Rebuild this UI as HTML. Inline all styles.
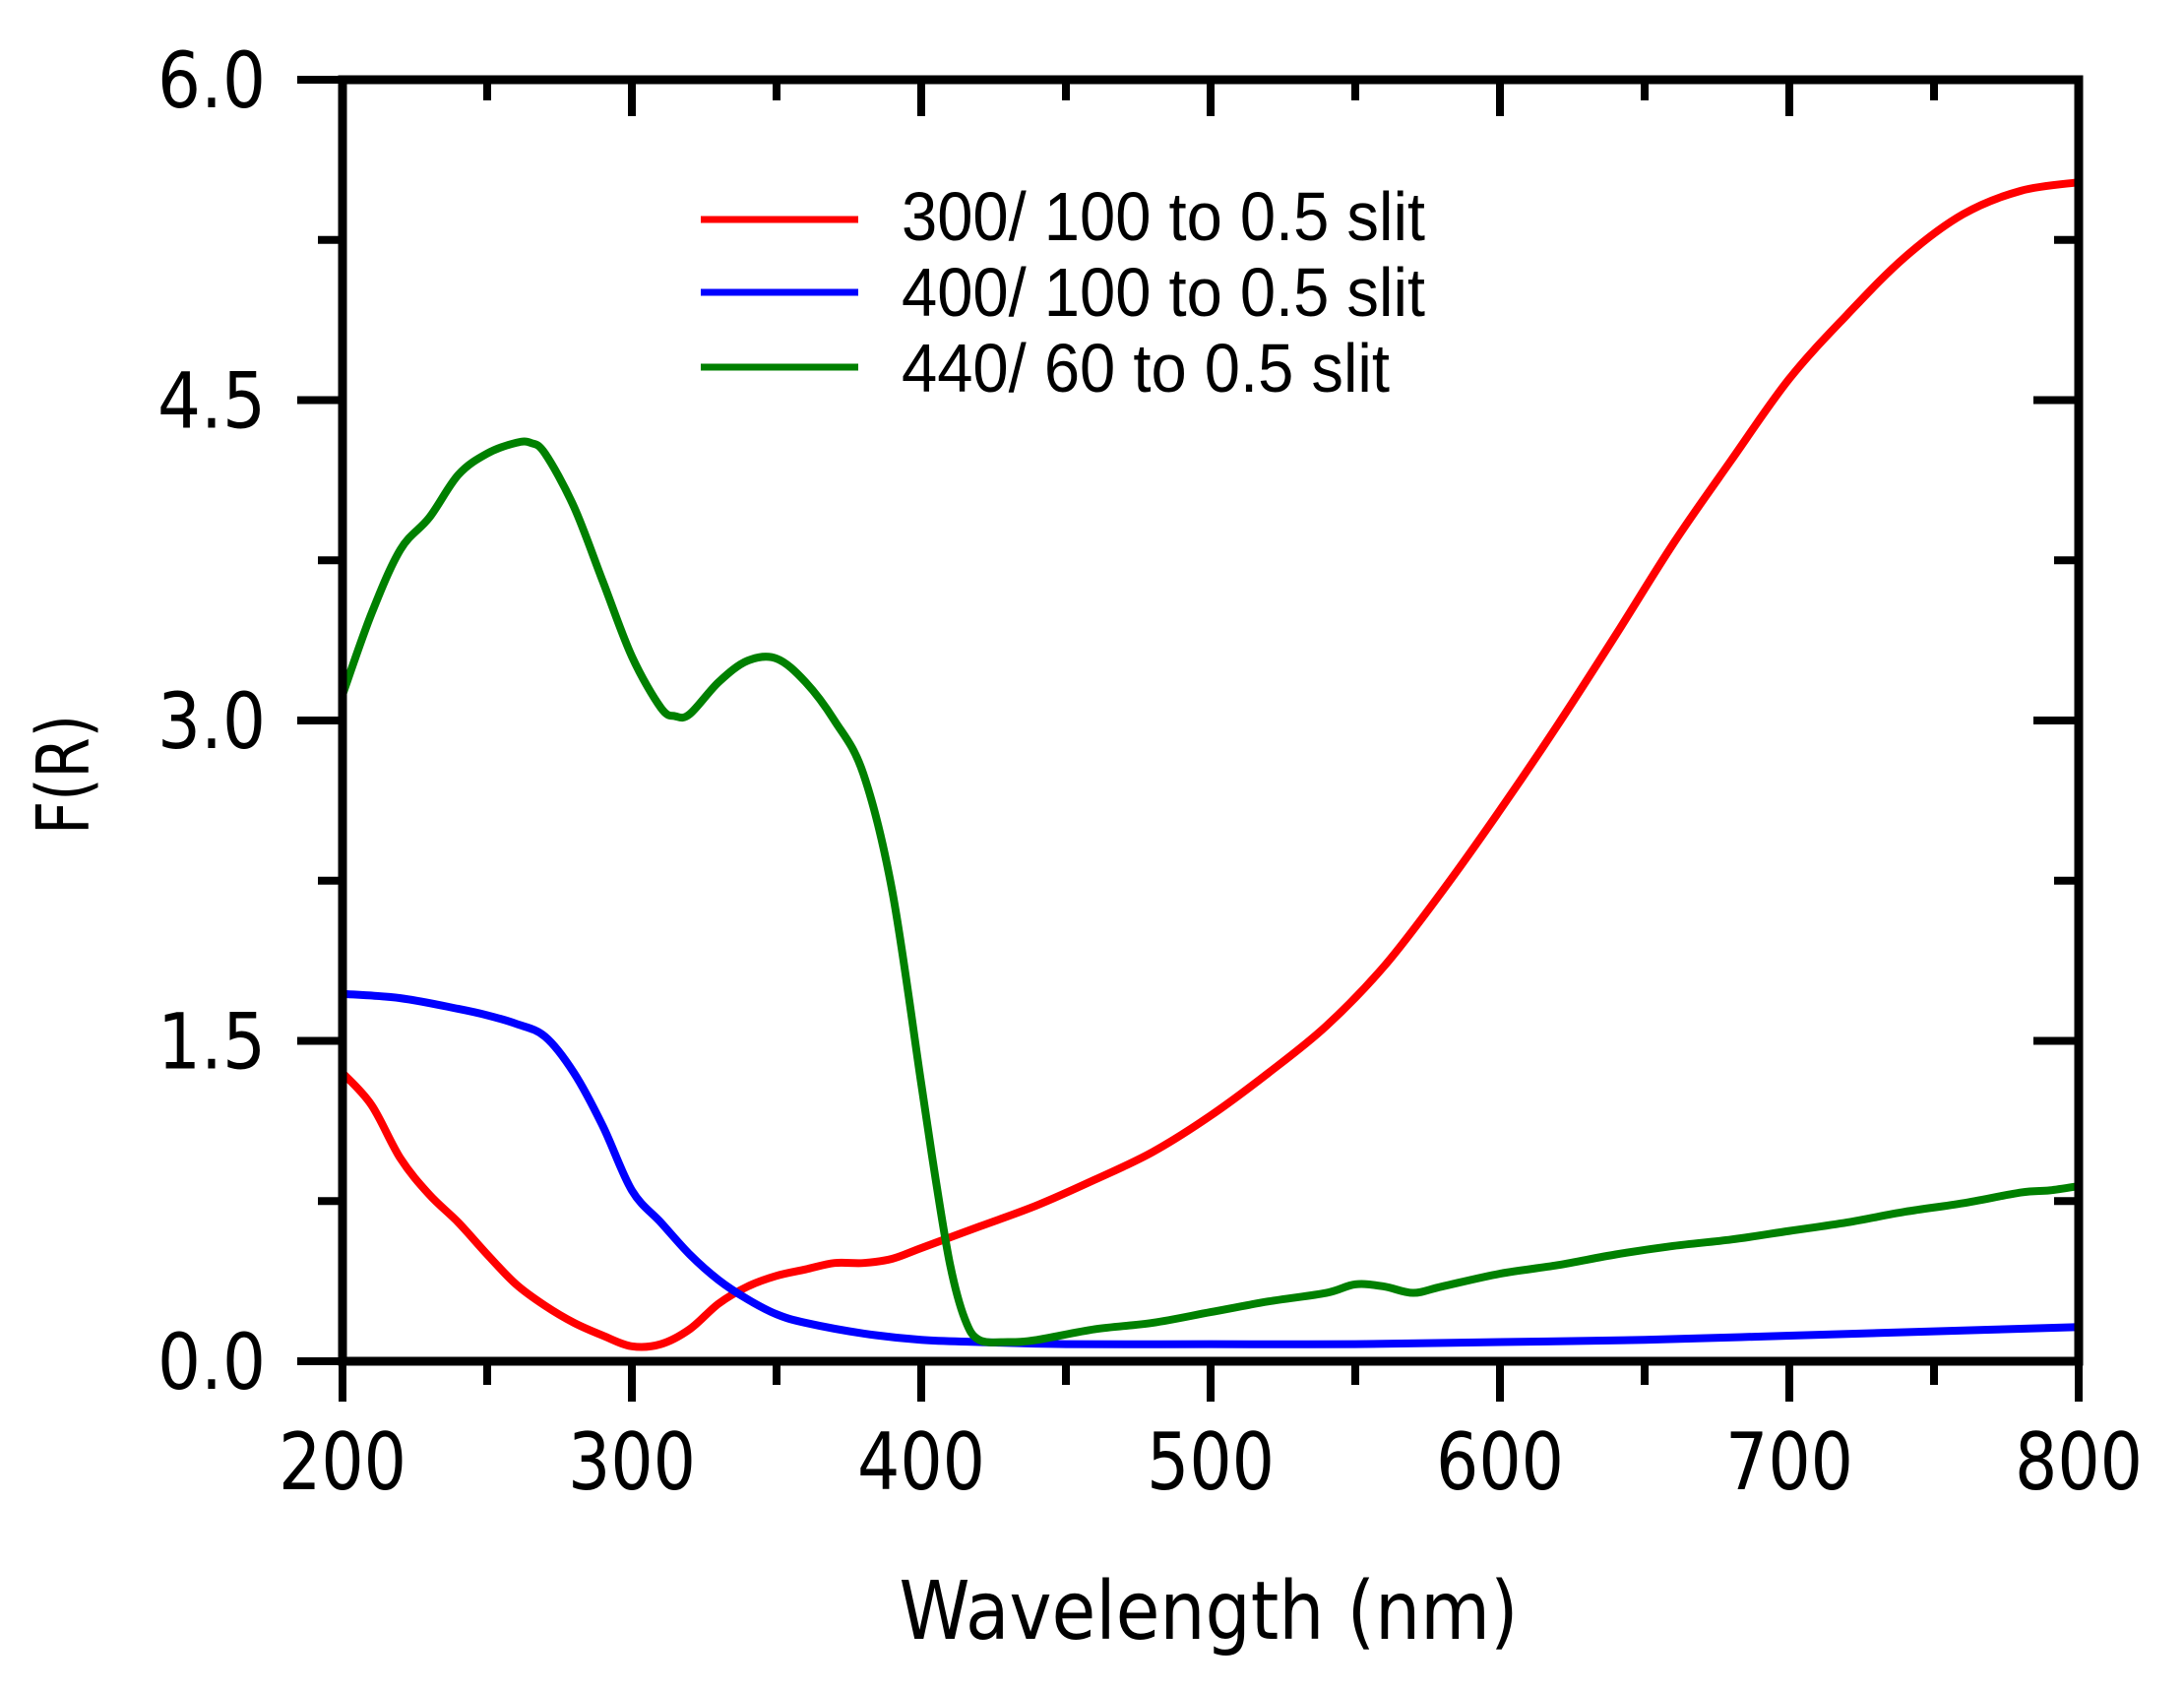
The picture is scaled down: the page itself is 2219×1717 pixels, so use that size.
<!DOCTYPE html>
<html><head><meta charset="utf-8"><style>html,body{margin:0;padding:0;background:#fff}svg{display:block}</style></head>
<body>
<svg id="chart" xmlns="http://www.w3.org/2000/svg" width="2219" height="1717" viewBox="0 0 2219 1717">
<rect width="2219" height="1717" fill="#fff"/>
<g id="series"></g>
<g id="axes"></g>
<g id="legend">
  <line x1="712" y1="223" x2="872" y2="223" stroke="#ff0000" stroke-width="7"/>
  <text x="916" y="244" font-family="Liberation Sans, sans-serif" font-size="70" textLength="532" lengthAdjust="spacingAndGlyphs">300/ 100 to 0.5 slit</text>
  <line x1="712" y1="297" x2="872" y2="297" stroke="#0000ff" stroke-width="7"/>
  <text x="916" y="321" font-family="Liberation Sans, sans-serif" font-size="70" textLength="532" lengthAdjust="spacingAndGlyphs">400/ 100 to 0.5 slit</text>
  <line x1="712" y1="373" x2="872" y2="373" stroke="#008000" stroke-width="7"/>
  <text x="916" y="398" font-family="Liberation Sans, sans-serif" font-size="70" textLength="496" lengthAdjust="spacingAndGlyphs">440/ 60 to 0.5 slit</text>
</g>
<text x="1228" y="1665" text-anchor="middle" font-family="DejaVu Sans, sans-serif" font-size="82" textLength="629" lengthAdjust="spacingAndGlyphs">Wavelength (nm)</text>
<text transform="translate(90,787) rotate(-90)" text-anchor="middle" font-family="DejaVu Sans, sans-serif" font-size="74" textLength="122" lengthAdjust="spacingAndGlyphs">F(R)</text>
</svg>
<script>
const redX = [200,210,220,230,240,250,260,270,280,290,300,310,320,330,340,350,360,370,380,390,400,420,440,460,480,500,520,540,560,580,600,620,640,660,680,700,720,740,760,780,800];
const redY = [1.35,1.2,0.95,0.78,0.65,0.5,0.36,0.26,0.18,0.12,0.07,0.08,0.15,0.27,0.35,0.4,0.43,0.46,0.46,0.48,0.53,0.63,0.73,0.85,0.98,1.15,1.35,1.57,1.85,2.2,2.58,2.98,3.4,3.83,4.22,4.6,4.9,5.17,5.37,5.48,5.52];
const blueX = [200,220,240,250,260,270,280,290,300,310,320,330,340,350,360,380,400,420,450,500,550,600,650,700,750,800];
const blueY = [1.72,1.7,1.65,1.62,1.58,1.52,1.35,1.1,0.8,0.65,0.5,0.38,0.29,0.22,0.18,0.13,0.1,0.09,0.08,0.08,0.08,0.09,0.1,0.12,0.14,0.16];
const greenX = [200,210,220,230,240,250,260,265,270,280,290,300,310,315,320,330,340,350,360,370,380,390,400,405,410,415,420,430,440,460,480,500,520,540,550,560,570,580,600,620,640,660,680,700,720,740,760,780,790,800];
const greenY = [3.12,3.5,3.8,3.95,4.15,4.25,4.3,4.3,4.25,4.0,3.65,3.3,3.06,3.02,3.03,3.18,3.28,3.29,3.18,3.0,2.75,2.2,1.3,0.85,0.45,0.2,0.1,0.09,0.1,0.15,0.18,0.23,0.28,0.32,0.36,0.35,0.32,0.35,0.41,0.45,0.5,0.54,0.57,0.61,0.65,0.7,0.74,0.79,0.8,0.82];
const xTicks = [200,300,400,500,600,700,800];
const xTickLabels = ["200","300","400","500","600","700","800"];
const yTicks = [0,1.5,3.0,4.5,6.0];
const yTickLabels = ["0.0","1.5","3.0","4.5","6.0"];

const L=348,R=2112,T=81,B=1383;
const xMin=200,xMax=800,yMin=0,yMax=6;
const sx=v=>L+(v-xMin)/(xMax-xMin)*(R-L);
const sy=v=>B-(v-yMin)/(yMax-yMin)*(B-T);
const NS="http://www.w3.org/2000/svg";
function mk(tag,attrs,parent){const e=document.createElementNS(NS,tag);for(const k in attrs)e.setAttribute(k,attrs[k]);parent.appendChild(e);return e;}
function smooth(xs,ys){
  const p=xs.map((x,i)=>[sx(x),sy(ys[i])]);
  let d="M"+p[0][0]+","+p[0][1];
  for(let i=0;i<p.length-1;i++){
    const p0=p[i-1]||p[i],p1=p[i],p2=p[i+1],p3=p[i+2]||p2;
    const c1=[p1[0]+(p2[0]-p0[0])/6,p1[1]+(p2[1]-p0[1])/6];
    const c2=[p2[0]-(p3[0]-p1[0])/6,p2[1]-(p3[1]-p1[1])/6];
    d+=" C"+c1[0]+","+c1[1]+" "+c2[0]+","+c2[1]+" "+p2[0]+","+p2[1];
  }
  return d;
}
const sg=document.getElementById('series');
const s1=mk('path',{d:smooth(redX,redY),fill:'none',stroke:'#ff0000','stroke-width':8,'stroke-linejoin':'round'},sg);


const s2=mk('path',{d:smooth(blueX,blueY),fill:'none',stroke:'#0000ff','stroke-width':8,'stroke-linejoin':'round'},sg);


const s3=mk('path',{d:smooth(greenX,greenY),fill:'none',stroke:'#008000','stroke-width':8,'stroke-linejoin':'round'},sg);



const ag=document.getElementById('axes');
const frame=mk('rect',{x:L,y:T,width:R-L,height:B-T,fill:'none',stroke:'#000','stroke-width':9},ag);


for(let v=xMin;v<=xMax;v+=50){
  const major=(v%100===0), x=sx(v);
  const tb=mk('line',{x1:x,y1:B,x2:x,y2:B+(major?41:24),stroke:'#000','stroke-width':8},ag);
  
  
  const tt=mk('line',{x1:x,y1:T,x2:x,y2:T+(major?37:21),stroke:'#000','stroke-width':8},ag);
  
  
}
xTicks.forEach((v,i)=>{
  const t=mk('text',{x:sx(v),y:1513,'text-anchor':'middle','font-family':'DejaVu Sans, sans-serif','font-size':80,textLength:130,lengthAdjust:'spacingAndGlyphs'},ag);
  t.textContent=xTickLabels[i];
  
  
});
for(let k=0;k<=8;k++){
  const v=k*0.75, major=(k%2===0), y=sy(v);
  const tl=mk('line',{x1:L-(major?46:25),y1:y,x2:L,y2:y,stroke:'#000','stroke-width':8},ag);
  
  
  const tr=mk('line',{x1:R-(major?46:25),y1:y,x2:R,y2:y,stroke:'#000','stroke-width':8},ag);
  
  
}
yTicks.forEach((v,i)=>{
  const t=mk('text',{x:270,y:sy(v)+28,'text-anchor':'end','font-family':'DejaVu Sans, sans-serif','font-size':78,textLength:110,lengthAdjust:'spacingAndGlyphs'},ag);
  t.textContent=yTickLabels[i];
  
  
});
</script>
</body></html>
